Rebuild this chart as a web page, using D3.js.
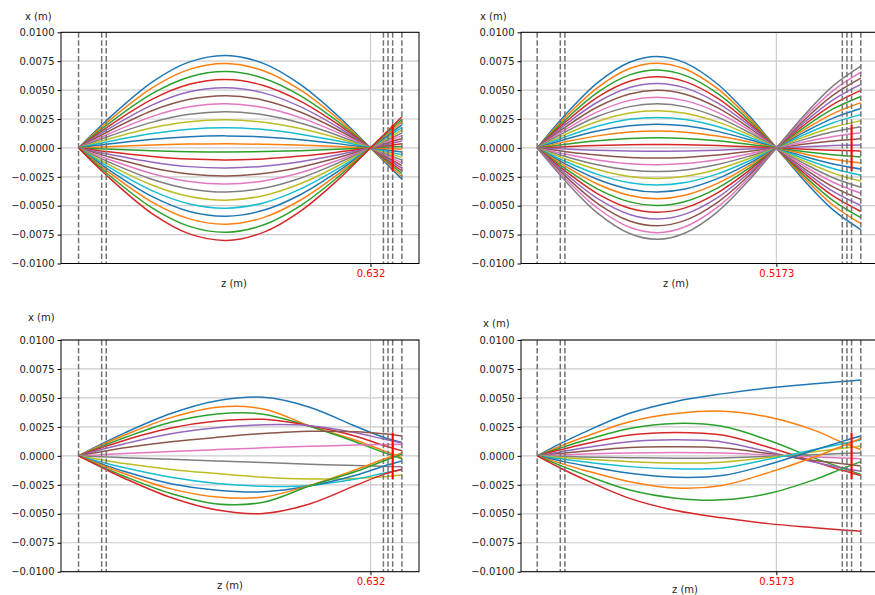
<!DOCTYPE html>
<html lang="en">
<head>
  <meta charset="UTF-8">
  <title>Ray traces</title>
  <script src="https://d3js.org/d3.v7.min.js"></script>
  <style>
    body { margin: 0; background: #fff; }
    svg { display: block; font-family: "DejaVu Sans", sans-serif; }
  </style>
</head>
<body>
<div class="main"></div>
<script>
  // tab10 colour cycle
  var colors = ["#1f77b4", "#ff7f0e", "#2ca02c", "#d62728", "#9467bd", "#8c564b", "#e377c2", "#7f7f7f", "#bcbd22", "#17becf"];

  var yTicks = [0.01, 0.0075, 0.005, 0.0025, 0, -0.0025, -0.005, -0.0075, -0.01];
  var dashZ = [0, 0.05, 0.06, 0.66, 0.67, 0.68, 0.70];
  var screenZ = 0.68;
  var screenHalf = 0.002;

  // top left : ray x (mm) at these z (m)
  var zTopLeft = [0, 0.06, 0.16, 0.24, 0.32, 0.40, 0.48, 0.56, 0.632, 0.70];
  var raysTopLeft = [
    [0, 2.35, 5.71, 7.44, 8.00, 7.31, 5.49, 2.82, 0, -2.70],
    [0, 2.15, 5.21, 6.79, 7.30, 6.67, 5.01, 2.57, 0, -2.47],
    [0, 1.94, 4.71, 6.14, 6.60, 6.03, 4.53, 2.32, 0, -2.23],
    [0, 1.74, 4.22, 5.50, 5.91, 5.40, 4.05, 2.08, 0, -2.00],
    [0, 1.53, 3.72, 4.85, 5.21, 4.76, 3.57, 1.83, 0, -1.76],
    [0, 1.33, 3.23, 4.20, 4.52, 4.13, 3.10, 1.59, 0, -1.53],
    [0, 1.12, 2.73, 3.55, 3.82, 3.49, 2.62, 1.34, 0, -1.29],
    [0, 0.92, 2.23, 2.91, 3.13, 2.86, 2.15, 1.10, 0, -1.06],
    [0, 0.71, 1.74, 2.26, 2.43, 2.22, 1.67, 0.86, 0, -0.82],
    [0, 0.51, 1.24, 1.62, 1.74, 1.59, 1.19, 0.61, 0, -0.59],
    [0, 0.31, 0.74, 0.97, 1.04, 0.95, 0.71, 0.37, 0, -0.35],
    [0, 0.10, 0.25, 0.33, 0.35, 0.32, 0.24, 0.12, 0, -0.12],
    [0, -0.10, -0.25, -0.33, -0.35, -0.32, -0.24, -0.12, 0, 0.12],
    [0, -0.31, -0.74, -0.97, -1.04, -0.95, -0.71, -0.37, 0, 0.35],
    [0, -0.51, -1.24, -1.62, -1.74, -1.59, -1.19, -0.61, 0, 0.59],
    [0, -0.71, -1.74, -2.26, -2.43, -2.22, -1.67, -0.86, 0, 0.82],
    [0, -0.92, -2.23, -2.91, -3.13, -2.86, -2.15, -1.10, 0, 1.06],
    [0, -1.12, -2.73, -3.55, -3.82, -3.49, -2.62, -1.34, 0, 1.29],
    [0, -1.33, -3.23, -4.20, -4.52, -4.13, -3.10, -1.59, 0, 1.53],
    [0, -1.53, -3.72, -4.85, -5.21, -4.76, -3.57, -1.83, 0, 1.76],
    [0, -1.74, -4.22, -5.50, -5.91, -5.40, -4.05, -2.08, 0, 2.00],
    [0, -1.94, -4.71, -6.14, -6.60, -6.03, -4.53, -2.32, 0, 2.23],
    [0, -2.15, -5.21, -6.79, -7.30, -6.67, -5.01, -2.57, 0, 2.47],
    [0, -2.35, -5.71, -7.44, -8.00, -7.31, -5.49, -2.82, 0, 2.70]
  ];

  // top right
  var zTopRight = [0, 0.06, 0.13, 0.20, 0.26, 0.32, 0.39, 0.46, 0.5173, 0.58, 0.64, 0.70];
  var raysTopRight = [
    [0, 2.82, 5.62, 7.41, 7.91, 7.36, 5.53, 2.71, 0, -2.93, -5.36, -7.07],
    [0, 2.61, 5.20, 6.87, 7.33, 6.82, 5.12, 2.51, 0, -2.72, -4.96, -6.55],
    [0, 2.40, 4.79, 6.32, 6.74, 6.27, 4.71, 2.31, 0, -2.50, -4.56, -6.03],
    [0, 2.19, 4.37, 5.76, 6.15, 5.73, 4.30, 2.10, 0, -2.28, -4.16, -5.50],
    [0, 1.98, 3.95, 5.22, 5.57, 5.19, 3.89, 1.90, 0, -2.07, -3.77, -4.98],
    [0, 1.77, 3.54, 4.67, 4.98, 4.64, 3.48, 1.70, 0, -1.85, -3.37, -4.45],
    [0, 1.56, 3.12, 4.11, 4.39, 4.09, 3.07, 1.50, 0, -1.63, -2.97, -3.92],
    [0, 1.36, 2.71, 3.57, 3.81, 3.55, 2.66, 1.30, 0, -1.41, -2.58, -3.41],
    [0, 1.15, 2.29, 3.02, 3.22, 3.00, 2.25, 1.10, 0, -1.19, -2.18, -2.88],
    [0, 0.94, 1.87, 2.47, 2.64, 2.46, 1.85, 0.90, 0, -0.98, -1.79, -2.36],
    [0, 0.73, 1.46, 1.92, 2.05, 1.91, 1.43, 0.70, 0, -0.76, -1.39, -1.83],
    [0, 0.52, 1.04, 1.37, 1.46, 1.36, 1.02, 0.50, 0, -0.54, -0.99, -1.31],
    [0, 0.31, 0.62, 0.82, 0.88, 0.82, 0.62, 0.30, 0, -0.33, -0.60, -0.79],
    [0, 0.10, 0.21, 0.27, 0.29, 0.27, 0.20, 0.10, 0, -0.11, -0.20, -0.26],
    [0, -0.10, -0.21, -0.27, -0.29, -0.27, -0.20, -0.10, 0, 0.11, 0.20, 0.26],
    [0, -0.31, -0.62, -0.82, -0.88, -0.82, -0.62, -0.30, 0, 0.33, 0.60, 0.79],
    [0, -0.52, -1.04, -1.37, -1.46, -1.36, -1.02, -0.50, 0, 0.54, 0.99, 1.31],
    [0, -0.73, -1.46, -1.92, -2.05, -1.91, -1.43, -0.70, 0, 0.76, 1.39, 1.83],
    [0, -0.94, -1.87, -2.47, -2.64, -2.46, -1.85, -0.90, 0, 0.98, 1.79, 2.36],
    [0, -1.15, -2.29, -3.02, -3.22, -3.00, -2.25, -1.10, 0, 1.19, 2.18, 2.88],
    [0, -1.36, -2.71, -3.57, -3.81, -3.55, -2.66, -1.30, 0, 1.41, 2.58, 3.41],
    [0, -1.56, -3.12, -4.11, -4.39, -4.09, -3.07, -1.50, 0, 1.63, 2.97, 3.92],
    [0, -1.77, -3.54, -4.67, -4.98, -4.64, -3.48, -1.70, 0, 1.85, 3.37, 4.45],
    [0, -1.98, -3.95, -5.22, -5.57, -5.19, -3.89, -1.90, 0, 2.07, 3.77, 4.98],
    [0, -2.19, -4.37, -5.76, -6.15, -5.73, -4.30, -2.10, 0, 2.28, 4.16, 5.50],
    [0, -2.40, -4.79, -6.32, -6.74, -6.27, -4.71, -2.31, 0, 2.50, 4.56, 6.03],
    [0, -2.61, -5.20, -6.87, -7.33, -6.82, -5.12, -2.51, 0, 2.72, 4.96, 6.55],
    [0, -2.82, -5.62, -7.41, -7.91, -7.36, -5.53, -2.71, 0, 2.93, 5.36, 7.07]
  ];

  // bottom panels share stations
  var zBottom = [0, 0.05, 0.1, 0.2, 0.3, 0.4, 0.5, 0.6, 0.66, 0.70];
  var raysBottomLeft = [
    [0, 1.02, 1.98, 3.65, 4.75, 5.05, 4.20, 2.55, 1.60, 1.15],
    [0, 0.95, 1.80, 3.30, 4.20, 4.05, 2.60, 1.35, 0.45, -0.15],
    [0, 0.82, 1.58, 2.90, 3.62, 3.60, 2.55, 1.20, 0.30, -0.25],
    [0, 0.70, 1.35, 2.40, 3.00, 3.15, 2.60, 1.70, 0.90, 0.45],
    [0, 0.55, 1.05, 1.90, 2.42, 2.68, 2.60, 2.00, 1.45, 1.10],
    [0, 0.36, 0.70, 1.22, 1.60, 1.92, 2.12, 2.08, 1.90, 1.72],
    [0, 0.10, 0.20, 0.38, 0.54, 0.69, 0.82, 0.93, 0.98, 1.00],
    [0, -0.08, -0.16, -0.30, -0.44, -0.58, -0.72, -0.84, -0.90, -0.95],
    [0, -0.34, -0.67, -1.17, -1.53, -1.85, -2.00, -1.95, -1.80, -1.65],
    [0, -0.54, -1.03, -1.85, -2.38, -2.62, -2.55, -2.00, -1.50, -1.20],
    [0, -0.70, -1.35, -2.40, -2.97, -3.10, -2.60, -1.68, -0.90, -0.45],
    [0, -0.80, -1.55, -2.85, -3.55, -3.55, -2.55, -1.20, -0.30, 0.25],
    [0, -0.93, -1.78, -3.25, -4.15, -4.00, -2.60, -1.35, -0.45, 0.15],
    [0, -1.00, -1.95, -3.60, -4.68, -4.97, -4.15, -2.55, -1.60, -1.15]
  ];
  var raysBottomRight = [
    [0, 1.05, 2.00, 3.67, 4.70, 5.35, 5.85, 6.22, 6.42, 6.55],
    [0, 0.83, 1.60, 2.95, 3.65, 3.85, 3.35, 2.20, 1.15, 0.55],
    [0, 0.67, 1.30, 2.37, 2.80, 2.55, 1.35, -0.20, -1.05, -1.60],
    [0, 0.52, 1.00, 1.80, 2.02, 1.80, 0.75, -0.50, -1.25, -1.70],
    [0, 0.34, 0.67, 1.22, 1.38, 1.20, 0.35, -0.55, -1.05, -1.32],
    [0, 0.20, 0.40, 0.73, 0.78, 0.68, 0.20, -0.40, -0.68, -0.88],
    [0, 0.08, 0.15, 0.25, 0.28, 0.24, 0.08, -0.10, -0.19, -0.25],
    [0, -0.05, -0.09, -0.16, -0.20, -0.18, -0.05, 0.10, 0.20, 0.25],
    [0, -0.14, -0.28, -0.50, -0.62, -0.55, -0.15, 0.35, 0.65, 0.85],
    [0, -0.26, -0.51, -0.93, -1.12, -1.05, -0.30, 0.55, 1.05, 1.37],
    [0, -0.43, -0.83, -1.51, -1.85, -1.70, -0.75, 0.50, 1.25, 1.72],
    [0, -0.63, -1.22, -2.23, -2.78, -2.55, -1.45, -0.10, 0.85, 1.50],
    [0, -0.83, -1.60, -2.95, -3.65, -3.80, -3.25, -2.05, -1.10, -0.50],
    [0, -1.05, -2.00, -3.67, -4.72, -5.35, -5.85, -6.20, -6.40, -6.50]
  ];

  var width = 875;
  var height = 595;
  var svg = d3.select(".main").append("svg").attr("width", width).attr("height", height);

  var panels = [
    {left: 61, right: 419, top: 32.3, bottom: 263.5, zDom: [-0.038, 0.737], focus: 0.632, label: "0.632",
     zs: zTopLeft, rays: raysTopLeft, yl: [25, 20], xl: [234, 287]},
    {left: 521, right: 877, top: 32.3, bottom: 263.5, zDom: [-0.035, 0.735], focus: 0.5173, label: "0.5173",
     zs: zTopRight, rays: raysTopRight, yl: [480, 20], xl: [676, 287]},
    {left: 61, right: 419, top: 340, bottom: 571.7, zDom: [-0.038, 0.737], focus: 0.632, label: "0.632",
     zs: zBottom, rays: raysBottomLeft, yl: [28, 321], xl: [230, 589]},
    {left: 521, right: 877, top: 340, bottom: 571.7, zDom: [-0.035, 0.735], focus: 0.5173, label: "0.5173",
     zs: zBottom, rays: raysBottomRight, yl: [483, 327], xl: [685, 593]}
  ];

  panels.forEach(function(p) {
    var x = d3.scaleLinear().domain(p.zDom).range([p.left, p.right]);
    var y = d3.scaleLinear().domain([-0.01, 0.01]).range([p.bottom, p.top]);
    var g = svg.append("g");

    // grid
    g.selectAll(".hgrid").data(yTicks).enter().append("line")
      .attr("x1", p.left).attr("x2", p.right)
      .attr("y1", function(d) { return y(d); }).attr("y2", function(d) { return y(d); })
      .style("stroke", "#cccccc").style("stroke-width", 1.2);
    g.append("line").attr("x1", x(p.focus)).attr("x2", x(p.focus)).attr("y1", p.top).attr("y2", p.bottom)
      .style("stroke", "#cccccc").style("stroke-width", 1.2);

    // rays
    var line = d3.line()
      .x(function(d, j) { return x(p.zs[j]); })
      .y(function(d) { return y(d / 1000); })
      .curve(d3.curveCatmullRom.alpha(0.5));
    p.rays.forEach(function(r, i) {
      g.append("path").attr("d", line(r)).style("fill", "none")
        .style("stroke", colors[i % 10]).style("stroke-width", 1.5);
    });

    // element planes
    g.selectAll(".dash").data(dashZ).enter().append("line")
      .attr("x1", function(d) { return x(d); }).attr("x2", function(d) { return x(d); })
      .attr("y1", p.top).attr("y2", p.bottom)
      .style("stroke", "#737373").style("stroke-width", 1.5).style("stroke-dasharray", "5.5,2.4");

    // screen
    g.append("line").attr("x1", x(screenZ)).attr("x2", x(screenZ))
      .attr("y1", y(screenHalf)).attr("y2", y(-screenHalf))
      .style("stroke", "red").style("stroke-width", 2);

    // frame
    g.append("rect").attr("x", p.left).attr("y", p.top)
      .attr("width", p.right - p.left).attr("height", p.bottom - p.top)
      .style("fill", "none").style("stroke", "#000").style("stroke-width", 1);

    // axes
    var ya = g.append("g").attr("transform", "translate(" + p.left + ",0)")
      .call(d3.axisLeft(y).tickValues(yTicks).tickSize(3.5).tickPadding(3)
        .tickFormat(function(d) { return d3.format(".4f")(d).replace("-", "\u2212"); }));
    var xa = g.append("g").attr("transform", "translate(0," + p.bottom + ")")
      .call(d3.axisBottom(x).tickValues([p.focus]).tickSize(3.5).tickPadding(3)
        .tickFormat(function() { return p.label; }));
    [ya, xa].forEach(function(a) {
      a.select(".domain").remove();
      a.selectAll("line").style("stroke", "#000");
      a.selectAll("text").style("font-size", "10px").style("font-family", "DejaVu Sans").style("fill", "#222");
    });
    xa.selectAll("text").style("fill", "red");

    // labels
    g.append("text").attr("x", p.yl[0]).attr("y", p.yl[1]).style("font-size", "10px").style("fill", "#222").text("x (m)");
    g.append("text").attr("x", p.xl[0]).attr("y", p.xl[1]).attr("text-anchor", "middle").style("font-size", "10px").style("fill", "#222").text("z (m)");
  });
</script>
</body>
</html>
